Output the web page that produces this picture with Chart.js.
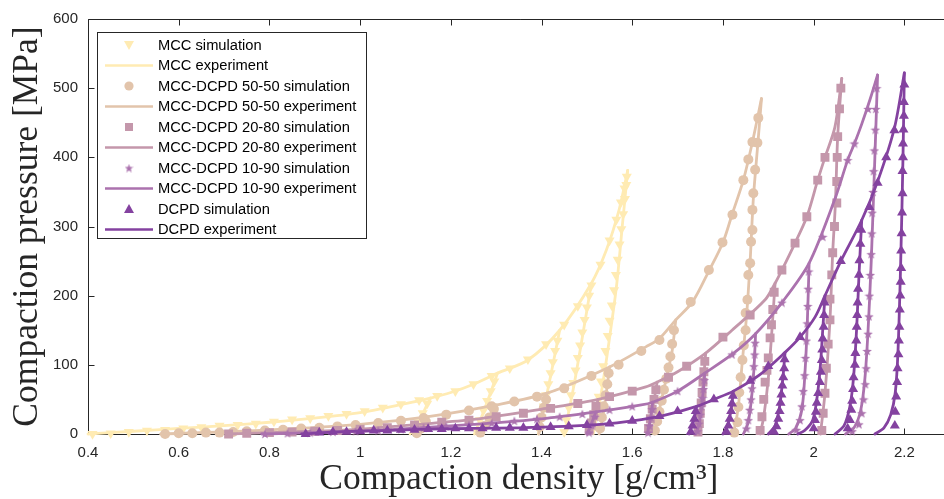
<!DOCTYPE html>
<html><head><meta charset="utf-8">
<script src="https://cdn.jsdelivr.net/npm/chart.js"></script>
<style>
html,body{margin:0;padding:0;background:#fff;overflow:hidden;width:944px;height:499px}
#wrap{position:absolute;left:0;top:0;width:956px;height:499px}
</style>
</head><body><div id="wrap"><canvas id="c" width="956" height="499"></canvas></div>
<script>
// ---------- tick labels / axis ----------
const xTickStep = 0.2, xMin = 0.4, xMax = 2.3;
const yTickStep = 100, yMin = 0, yMax = 600;
const xTitle = 'Compaction density [g/cm\u00B3]';
const yTitle = 'Compaction pressure [MPa]';

// ---------- legend labels ----------
const legendLabels = [
  'MCC simulation','MCC experiment',
  'MCC-DCPD 50-50 simulation','MCC-DCPD 50-50 experiment',
  'MCC-DCPD 20-80 simulation','MCC-DCPD 20-80 experiment',
  'MCC-DCPD 10-90 simulation','MCC-DCPD 10-90 experiment',
  'DCPD simulation','DCPD experiment'
];

// ---------- MCC ----------
const mccExp = [[0.4,0],[0.5,4],[0.6,8],[0.7,12],[0.8,17],[0.9,23],[1.0,31],[1.1,44],[1.155,52],[1.2,60],[1.25,72],[1.303,88],[1.37,107],[1.44,150],[1.51,218],[1.543,266],[1.571,324],[1.59,381]];
const mccUnload = [
  [[1.155,52],[1.14,32],[1.125,12],[1.11,0]],
  [[1.303,88],[1.285,55],[1.268,25],[1.252,0]],
  [[1.44,150],[1.425,100],[1.41,52],[1.393,0]],
  [[1.51,218],[1.49,140],[1.47,65],[1.45,0]],
  [[1.59,381],[1.578,300],[1.565,212],[1.543,107],[1.528,45],[1.514,0]]
];
const mccSim = [[0.41,0],[0.45,1],[0.49,3],[0.53,5],[0.57,6],[0.61,8],[0.65,10],[0.69,12],[0.73,13],[0.77,15],[0.81,18],[0.85,21],[0.89,23],[0.93,26],[0.97,29],[1.01,33],[1.05,38],[1.09,43],[1.13,49],[1.17,55],[1.21,62],[1.25,72],[1.29,84],[1.33,95],[1.37,108],[1.41,130],[1.45,158],[1.48,185],[1.51,215],[1.53,245],[1.55,280],[1.565,310],[1.575,335],[1.583,355],[1.588,372],
  [1.148,44],[1.138,30],[1.128,17],[1.118,5],
  [1.296,76],[1.288,62],[1.28,48],[1.272,34],[1.264,20],[1.256,6],
  [1.435,135],[1.43,120],[1.425,104],[1.42,88],[1.415,72],[1.41,56],[1.405,40],[1.4,24],[1.395,8],
  [1.505,200],[1.5,183],[1.495,165],[1.49,147],[1.485,128],[1.48,110],[1.475,92],[1.47,74],[1.465,56],[1.46,38],[1.455,20],[1.45,3],
  [1.587,360],[1.584,340],[1.58,318],[1.576,296],[1.572,274],[1.568,252],[1.564,230],[1.56,208],[1.555,186],[1.55,164],[1.546,142],[1.541,120],[1.536,98],[1.531,76],[1.526,54],[1.521,32],[1.516,10]];

// ---------- MCC-DCPD 50-50 ----------
const ffExp = [[0.56,0],[0.7,3],[0.86,8],[1.0,14],[1.15,25],[1.3,42],[1.412,59],[1.55,97],[1.63,126],[1.66,138],[1.696,165],[1.733,191],[1.77,237],[1.80,277],[1.82,317],[1.845,367],[1.865,422],[1.885,485]];
const ffUnload = [
  [[1.15,25],[1.135,12],[1.12,0]],
  [[1.3,42],[1.28,20],[1.262,0]],
  [[1.412,59],[1.402,30],[1.394,0]],
  [[1.55,97],[1.543,60],[1.535,25],[1.527,0]],
  [[1.696,165],[1.688,120],[1.679,92],[1.663,45],[1.648,0]],
  [[1.885,485],[1.877,420],[1.867,340],[1.86,250],[1.852,170],[1.843,107],[1.834,40],[1.826,10],[1.82,0]]
];
const ffSim = [[0.57,0],[0.6,1],[0.63,1],[0.66,2],[0.69,2],[0.72,3],[0.75,4],[0.79,5],[0.83,6],[0.87,8],[0.91,9],[0.95,11],[0.99,13],[1.04,16],[1.09,19],[1.14,23],[1.19,28],[1.24,34],[1.29,40],[1.34,47],[1.39,54],[1.45,66],[1.51,84],[1.57,100],[1.62,120],[1.66,136],[1.729,191],[1.769,237],[1.799,277],[1.821,317],[1.845,367],[1.856,397],[1.865,422],
  [1.145,18],[1.135,8],[1.125,1],
  [1.295,36],[1.285,24],[1.275,12],[1.265,2],
  [1.41,50],[1.405,38],[1.4,24],[1.396,10],
  [1.548,88],[1.545,72],[1.541,56],[1.537,40],[1.533,24],[1.529,8],
  [1.692,150],[1.688,130],[1.684,112],[1.68,96],[1.675,80],[1.67,64],[1.665,48],[1.66,32],[1.655,18],[1.65,5],
  [1.878,457],[1.876,421],[1.871,382],[1.867,348],[1.865,324],[1.865,295],[1.862,278],[1.86,247],[1.856,230],[1.854,194],[1.85,175],[1.85,150],[1.846,128],[1.843,107],[1.839,82],[1.836,60],[1.834,39],[1.832,17],[1.825,2]];

// ---------- MCC-DCPD 20-80 ----------
const teExp = [[0.705,0],[0.8,2],[0.9,4],[1.0,7],[1.13,14],[1.25,21],[1.42,38],[1.525,50],[1.63,68],[1.655,75],[1.70,90],[1.762,117],[1.82,150],[1.893,194],[1.915,218],[1.93,237],[1.959,276],[1.985,314],[2.009,367],[2.025,400],[2.047,444],[2.062,514]];
const teUnload = [
  [[1.525,50],[1.513,25],[1.5,0]],
  [[1.655,75],[1.645,38],[1.632,0]],
  [[1.762,117],[1.756,70],[1.75,30],[1.743,0]],
  [[1.915,218],[1.908,150],[1.9,80],[1.89,25],[1.882,0]],
  [[2.062,514],[2.053,430],[2.048,334],[2.042,262],[2.036,165],[2.025,59],[2.015,0]]
];
const teSim = [[0.71,0],[0.75,1],[0.8,2],[0.85,3],[0.9,4],[0.95,5],[1.0,7],[1.06,9],[1.12,13],[1.18,17],[1.24,20],[1.3,25],[1.36,30],[1.42,37],[1.48,44],[1.55,54],[1.6,62],[1.68,82],[1.72,98],[1.8,140],[1.86,172],[1.93,237],[1.959,276],[1.985,314],[2.009,367],[2.025,400],
  [1.52,40],[1.515,28],[1.51,16],[1.505,5],
  [1.652,64],[1.648,50],[1.644,36],[1.64,22],[1.636,8],
  [1.76,105],[1.758,90],[1.756,75],[1.754,60],[1.752,45],[1.75,30],[1.748,15],[1.745,3],
  [1.913,205],[1.91,180],[1.907,158],[1.904,139],[1.9,110],[1.897,92],[1.893,75],[1.89,50],[1.886,25],[1.882,5],
  [2.06,500],[2.057,470],[2.053,430],[2.052,400],[2.051,365],[2.051,334],[2.046,300],[2.042,262],[2.04,230],[2.036,195],[2.036,165],[2.032,130],[2.028,95],[2.025,59],[2.021,30],[2.018,5]];

// ---------- MCC-DCPD 10-90 ----------
const tnExp = [[0.783,0],[0.9,2],[1.0,4],[1.13,9],[1.25,14],[1.4,22],[1.52,32],[1.62,42],[1.645,46],[1.7,62],[1.76,88],[1.82,115],[1.872,145],[1.93,190],[1.99,247],[2.047,340],[2.075,396],[2.09,420],[2.106,448],[2.125,485],[2.141,519]];
const tnUnload = [
  [[1.52,32],[1.51,15],[1.5,0]],
  [[1.645,46],[1.64,20],[1.633,0]],
  [[1.76,88],[1.755,50],[1.748,15],[1.74,0]],
  [[1.872,145],[1.868,90],[1.862,45],[1.855,15],[1.845,0]],
  [[1.99,247],[1.986,160],[1.981,90],[1.974,35],[1.96,8],[1.945,0]],
  [[2.141,519],[2.135,400],[2.127,250],[2.12,150],[2.113,80],[2.104,35],[2.09,10],[2.07,0]]
];
const tnSim = [[0.79,0],[0.84,1],[0.89,2],[0.94,3],[0.99,4],[1.04,5],[1.09,7],[1.14,9],[1.19,11],[1.24,13],[1.29,16],[1.34,19],[1.39,22],[1.44,25],[1.49,29],[1.55,35],[1.6,40],[1.7,62],[1.82,115],[1.93,190],[2.02,285],[2.075,396],[2.09,420],[2.12,470],
  [1.518,25],[1.512,12],[1.505,2],
  [1.644,36],[1.641,24],[1.638,12],[1.635,2],
  [1.759,78],[1.757,65],[1.755,52],[1.753,40],[1.75,28],[1.747,15],[1.744,4],
  [1.871,132],[1.87,115],[1.868,98],[1.866,82],[1.864,66],[1.862,50],[1.859,35],[1.856,20],[1.852,8],
  [1.989,235],[1.988,210],[1.987,185],[1.986,160],[1.984,135],[1.982,110],[1.98,85],[1.977,62],[1.974,40],[1.97,20],[1.962,6],
  [2.139,500],[2.137,470],[2.136,440],[2.134,410],[2.132,380],[2.131,350],[2.129,320],[2.128,290],[2.127,260],[2.125,230],[2.123,200],[2.122,170],[2.12,145],[2.118,120],[2.116,95],[2.114,72],[2.11,50],[2.106,30],[2.1,14],[2.085,4]];

// ---------- DCPD ----------
const dcExp = [[0.871,0],[0.95,3],[1.05,5],[1.15,7],[1.25,8],[1.35,9],[1.45,11],[1.53,14],[1.6,19],[1.67,27],[1.742,40],[1.78,50],[1.823,62],[1.88,85],[1.937,118],[1.97,140],[2.003,169],[2.025,200],[2.06,250],[2.106,309],[2.141,365],[2.178,442],[2.2,522]];
const dcUnload = [
  [[1.742,40],[1.735,18],[1.725,0]],
  [[1.823,62],[1.818,35],[1.81,12],[1.8,0]],
  [[1.937,118],[1.932,80],[1.925,40],[1.915,12],[1.9,0]],
  [[2.025,200],[2.02,150],[2.015,100],[2.008,55],[1.998,20],[1.98,5],[1.965,0]],
  [[2.106,309],[2.1,230],[2.095,155],[2.088,82],[2.08,40],[2.067,12],[2.047,0]],
  [[2.2,522],[2.197,400],[2.192,250],[2.186,120],[2.18,60],[2.17,28],[2.155,9],[2.135,0]]
];
const dcSim = [[0.88,0],[0.91,2],[0.94,3],[0.97,3],[1.0,4],[1.03,5],[1.06,5],[1.09,6],[1.12,6],[1.15,7],[1.18,7],[1.21,8],[1.24,8],[1.27,8],[1.3,9],[1.33,9],[1.36,9],[1.39,10],[1.42,10],[1.46,11],[1.5,13],[1.55,15],[1.6,19],[1.66,26],[1.7,33],[1.78,50],[1.86,77],[1.9,98],[1.97,140],[2.06,250],[2.123,328],[2.141,363],[2.16,400],[2.178,439],
  [1.74,33],[1.737,22],[1.733,12],[1.729,3],
  [1.822,55],[1.82,44],[1.818,33],[1.815,22],[1.812,12],[1.808,3],
  [1.936,108],[1.935,95],[1.933,82],[1.931,70],[1.929,57],[1.927,45],[1.925,33],[1.922,22],[1.918,11],[1.913,3],
  [2.024,190],[2.023,172],[2.022,155],[2.02,138],[2.019,122],[2.018,107],[2.016,90],[2.014,75],[2.01,59],[2.007,45],[2.005,32],[2.003,20],[2.0,8],
  [2.105,295],[2.103,275],[2.101,251],[2.1,230],[2.098,210],[2.097,190],[2.096,172],[2.095,155],[2.094,135],[2.092,117],[2.091,100],[2.088,82],[2.087,65],[2.085,48],[2.083,35],[2.08,20],[2.075,8],
  [2.2,505],[2.199,480],[2.199,460],[2.198,440],[2.197,420],[2.197,400],[2.196,380],[2.196,348],[2.195,320],[2.194,290],[2.193,265],[2.193,240],[2.192,220],[2.191,200],[2.19,180],[2.189,155],[2.188,135],[2.187,115],[2.185,95],[2.184,75],[2.182,54],[2.18,32],[2.179,12]];

// ---------- styling ----------
const COL = ['#FFEBB3','#E2C4AB','#C497AB','#AB72AE','#8442A0'];

function makeStar(size, color){
  const c = document.createElement('canvas');
  c.width = size; c.height = size;
  const g = c.getContext('2d');
  g.fillStyle = color; g.beginPath();
  for(let i=0;i<10;i++){
    const r = (i%2) ? size*0.21 : size*0.5;
    const a = -Math.PI/2 + i*Math.PI/5;
    const px = size/2 + r*Math.cos(a), py = size/2 + 0.5 + r*Math.sin(a);
    if(i===0) g.moveTo(px,py); else g.lineTo(px,py);
  }
  g.closePath(); g.fill();
  return c;
}
const starImg = makeStar(10, COL[3]);
const starImgLegend = makeStar(9, COL[3]);

const materials = [
  {exp: mccExp, unl: mccUnload, sim: mccSim, style:'triangle', rot:180, r:5.8},
  {exp: ffExp,  unl: ffUnload,  sim: ffSim,  style:'circle',   rot:0,   r:5},
  {exp: teExp,  unl: teUnload,  sim: teSim,  style:'rect',     rot:0,   r:6.3},
  {exp: tnExp,  unl: tnUnload,  sim: tnSim,  style:starImg,    rot:0,   r:5},
  {exp: dcExp,  unl: dcUnload,  sim: dcSim,  style:'triangle', rot:0,   r:5.8}
];

const toPts = a => a.map(p => ({x:p[0], y:p[1]}));
const datasets = [];
let ord = 1000;
materials.forEach((m, i) => {
  datasets.push({
    label: legendLabels[2*i], type:'scatter', data: toPts(m.sim), showLine:false,
    pointStyle: m.style, rotation: m.rot, pointRadius: m.r, pointHoverRadius: m.r,
    pointBackgroundColor: COL[i], pointBorderColor: COL[i], pointBorderWidth: 0,
    clip: 10, order: ord--
  });
  const lines = [m.exp].concat(m.unl);
  const o = ord--;
  lines.forEach(seg => {
    datasets.push({
      label: legendLabels[2*i+1], type:'line', data: toPts(seg), showLine:true,
      borderColor: COL[i], borderWidth: 2.8, pointRadius: 0, pointHoverRadius: 0,
      tension: 0.3, fill:false, clip: 10, order: o, borderCapStyle:'round', borderJoinStyle:'round'
    });
  });
});

function drawMarker(ctx, kind, x, y, color){
  ctx.fillStyle = color;
  ctx.beginPath();
  if(kind==='tdown'){ ctx.moveTo(x-5,y-4); ctx.lineTo(x+5,y-4); ctx.lineTo(x,y+5); ctx.closePath(); ctx.fill(); }
  else if(kind==='tup'){ ctx.moveTo(x-5,y+4); ctx.lineTo(x+5,y+4); ctx.lineTo(x,y-5); ctx.closePath(); ctx.fill(); }
  else if(kind==='circle'){ ctx.arc(x,y,4.6,0,Math.PI*2); ctx.fill(); }
  else if(kind==='rect'){ ctx.fillRect(x-4,y-4,8,8); }
  else if(kind==='star'){ ctx.drawImage(starImgLegend, x-4.5, y-4.5); }
}

const framePlugin = {
  id:'frame',
  beforeDatasetsDraw(chart){
    const {ctx, chartArea:a} = chart;
    const xs = chart.scales.x, ys = chart.scales.y;
    ctx.save();
    ctx.strokeStyle = '#262626'; ctx.lineWidth = 1;
    ctx.beginPath();
    const L = Math.round(a.left)+0.5, B = Math.round(a.bottom)+0.5, T = Math.round(a.top)+0.5;
    ctx.moveTo(L, T); ctx.lineTo(L, B); ctx.lineTo(a.right+2, B);
    ctx.moveTo(L, T); ctx.lineTo(a.right+2, T);
    xs.ticks.forEach(t => {
      const px = Math.round(xs.getPixelForValue(t.value))+0.5;
      ctx.moveTo(px, B); ctx.lineTo(px, B-6);
      ctx.moveTo(px, T); ctx.lineTo(px, T+6);
    });
    ys.ticks.forEach(t => {
      const py = Math.round(ys.getPixelForValue(t.value))+0.5;
      ctx.moveTo(L, py); ctx.lineTo(L+6, py);
    });
    ctx.stroke();
    ctx.restore();
  },
  afterDatasetsDraw(chart){
    const ctx = chart.ctx;
    ctx.save();
    const bx=97, by=32, bw=269, bh=206;
    ctx.fillStyle='#fff'; ctx.fillRect(bx,by,bw,bh);
    ctx.strokeStyle='#262626'; ctx.lineWidth=1; ctx.strokeRect(bx+0.5,by+0.5,bw,bh);
    const kinds = ['tdown','circle','rect','star','tup'];
    ctx.font = '14.7px "Liberation Sans", Arial, sans-serif';
    ctx.textBaseline = 'middle'; ctx.textAlign='left';
    legendLabels.forEach((lab, i) => {
      const y = 45 + i*20.5;
      const m = Math.floor(i/2);
      if(i%2===0){ drawMarker(ctx, kinds[m], 129, y, COL[m]); }
      else { ctx.strokeStyle = COL[m]; ctx.lineWidth = 2.6; ctx.beginPath(); ctx.moveTo(105,y); ctx.lineTo(153,y); ctx.stroke(); }
      ctx.fillStyle = '#000';
      ctx.fillText(lab, 158, y+0.5);
    });
    ctx.restore();
  }
};

Chart.defaults.font.family = '"Liberation Sans", Arial, sans-serif';
Chart.defaults.color = '#262626';

new Chart(document.getElementById('c'), {
  type: 'scatter',
  data: { datasets },
  options: {
    responsive:false, animation:false, devicePixelRatio:1,
    layout:{ padding:{ top:19, left:0, right:0, bottom:0 } },
    plugins:{ legend:{display:false}, tooltip:{enabled:false} },
    events: [],
    scales:{
      x:{ type:'linear', min:xMin, max:xMax,
        ticks:{ stepSize:xTickStep, includeBounds:false, font:{size:15}, color:'#262626', padding:10, maxRotation:0,
          callback:v => String(Number(v.toFixed(1))) },
        grid:{ display:false, drawTicks:false }, border:{ display:false },
        title:{ display:true, text:xTitle, font:{family:'"Liberation Serif", "Times New Roman", serif', size:35.5}, color:'#262626', padding:{top:0,bottom:-2} },
        afterFit: s => { s.height = 65; }
      },
      y:{ type:'linear', min:yMin, max:yMax,
        ticks:{ stepSize:yTickStep, font:{size:15}, color:'#262626', padding:10 },
        grid:{ display:false, drawTicks:false }, border:{ display:false },
        title:{ display:true, text:yTitle, font:{family:'"Liberation Serif", "Times New Roman", serif', size:35.5}, color:'#262626', padding:{top:6,bottom:0} },
        afterFit: s => { s.width = 88; }
      }
    }
  },
  plugins:[framePlugin]
});
</script>
</body></html>
